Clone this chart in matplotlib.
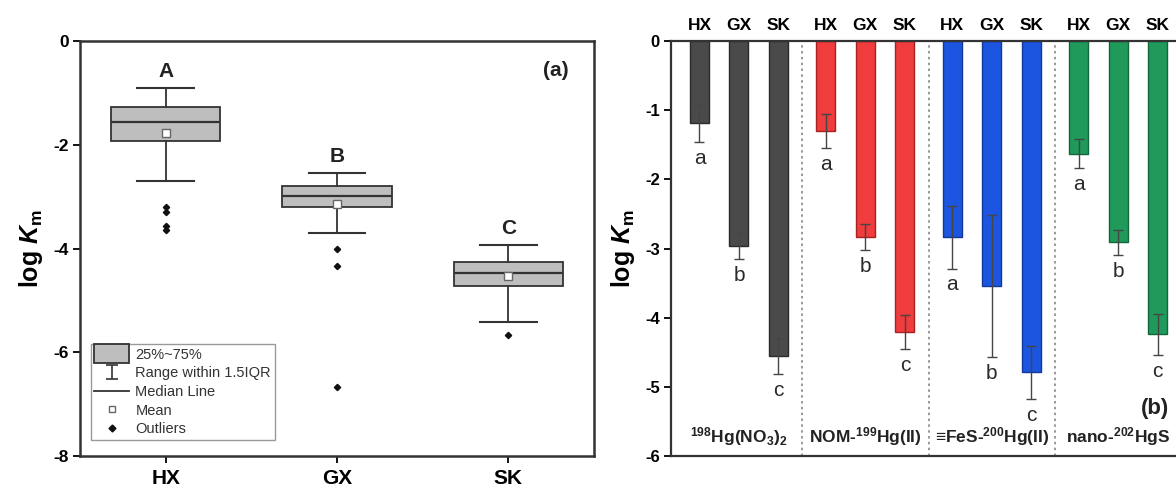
import numpy as np
import matplotlib
matplotlib.use('Agg')
import matplotlib.pyplot as plt
from matplotlib.patches import Patch, Rectangle
from matplotlib.lines import Line2D
from matplotlib.legend_handler import HandlerPatch

plt.rcParams['font.family'] = ['Liberation Sans', 'DejaVu Sans']
plt.rcParams['axes.unicode_minus'] = False
plt.rcParams['mathtext.fontset'] = 'custom'
plt.rcParams['mathtext.rm'] = 'Liberation Sans'
plt.rcParams['mathtext.bf'] = 'Liberation Sans:bold'
plt.rcParams['mathtext.it'] = 'Liberation Sans:italic'
plt.rcParams['mathtext.bfit'] = 'Liberation Sans:italic:bold'

# (a) log Km box statistics for each site
sites = ['HX', 'GX', 'SK']
q1 = [-1.93, -3.20, -4.72]
med = [-1.57, -2.99, -4.47]
q3 = [-1.28, -2.79, -4.26]
whis_lo = [-2.70, -3.70, -5.41]
whis_hi = [-0.90, -2.54, -3.93]
means = [-1.78, -3.14, -4.53]
outliers = [[-3.20, -3.30, -3.56, -3.65], [-4.01, -4.34, -6.67], [-5.66]]
site_letters = ['A', 'B', 'C']

# (b) mean log Km and SD for each Hg species (HX, GX, SK)
species = [r'$^{\mathbf{198}}$Hg(NO$_{\mathbf{3}}$)$_{\mathbf{2}}$',
           r'NOM-$^{\mathbf{199}}$Hg(II)',
           r'≡FeS-$^{\mathbf{200}}$Hg(II)',
           r'nano-$^{\mathbf{202}}$HgS']
km_mean = [[-1.19, -2.96, -4.56],
           [-1.30, -2.83, -4.21],
           [-2.84, -3.54, -4.79],
           [-1.63, -2.91, -4.24]]
km_sd = [[0.27, 0.19, 0.26],
         [0.25, 0.19, 0.25],
         [0.45, 1.03, 0.38],
         [0.21, 0.18, 0.30]]
bar_letters = ['a', 'b', 'c']
face_colors = ['#4a4a4a', '#f03c3c', '#1c55df', '#1f9a5a']
edge_colors = ['#2a2a2a', '#a82222', '#12389a', '#11663a']

fig = plt.figure(figsize=(11.76, 4.88), dpi=100)

# ---------------- panel (a) ----------------
ax1 = fig.add_axes([80 / 1176, 32 / 488, 514 / 1176, 415 / 488])
stats = []
for i in range(len(sites)):
    stats.append(dict(med=med[i], q1=q1[i], q3=q3[i], whislo=whis_lo[i],
                      whishi=whis_hi[i], mean=means[i], fliers=outliers[i]))
pos = [1, 2, 3]
ax1.bxp(stats, positions=pos, widths=0.64, capwidths=0.33, showmeans=True,
        patch_artist=True,
        boxprops=dict(facecolor='#bebebe', edgecolor='#333333', linewidth=1.3),
        medianprops=dict(color='#333333', linewidth=1.6),
        whiskerprops=dict(color='#333333', linewidth=1.3),
        capprops=dict(color='#333333', linewidth=1.5),
        meanprops=dict(marker='s', markerfacecolor='white',
                       markeredgecolor='#666666', markersize=6),
        flierprops=dict(marker='D', markerfacecolor='#111111',
                        markeredgecolor='#111111', markersize=3.2))
for p, hi, lab in zip(pos, whis_hi, site_letters):
    ax1.text(p, hi + 0.13, lab, ha='center', va='bottom', fontsize=15,
             fontweight='bold', color='#222222')
ax1.text(0.95, 0.93, '(a)', transform=ax1.transAxes, ha='right', va='center',
         fontsize=15, fontweight='bold', color='#222222')

ax1.set_xlim(0.5, 3.5)
ax1.set_ylim(-8, 0)
ax1.set_yticks([0, -2, -4, -6, -8])
ax1.set_xticks(pos)
ax1.set_xticklabels(sites)
ax1.tick_params(axis='x', direction='out', length=5, width=1.3, labelsize=15, pad=4)
ax1.tick_params(axis='y', direction='out', length=5, width=1.3, labelsize=12.5, pad=3)
for t in ax1.get_xticklabels() + ax1.get_yticklabels():
    t.set_fontweight('bold')
for s in ax1.spines.values():
    s.set_linewidth(1.8)
    s.set_color('#333333')
ax1.set_ylabel(r'log $\mathbfit{K}_{\mathbf{m}}$', fontsize=18, fontweight='bold',
               labelpad=6)


def tall_box(legend, orig_handle, xdescent, ydescent, width, height, fontsize):
    return Rectangle((-xdescent, -ydescent - 3), width, height + 6)


eb = ax1.errorbar([np.nan], [np.nan], yerr=[1], fmt='none', ecolor='#333333',
                  elinewidth=1.2, capsize=4, capthick=1.2)
handles = [Patch(facecolor='#bebebe', edgecolor='#333333', linewidth=1.3),
           eb,
           Line2D([], [], color='#333333', linewidth=1.3),
           Line2D([], [], ls='none', marker='s', markerfacecolor='white',
                  markeredgecolor='#666666', markersize=5),
           Line2D([], [], ls='none', marker='D', markerfacecolor='#111111',
                  markeredgecolor='#111111', markersize=3.5)]
labels = ['25%~75%', 'Range within 1.5IQR', 'Median Line', 'Mean', 'Outliers']
leg = ax1.legend(handles, labels, loc='lower left', bbox_to_anchor=(0.021, 0.039),
                 borderaxespad=0, fancybox=False, framealpha=1, edgecolor='#999999',
                 fontsize=10.5, handlelength=2.4, handletextpad=0.4,
                 labelspacing=0.32, borderpad=0.25,
                 handler_map={Patch: HandlerPatch(patch_func=tall_box)})
leg.get_frame().set_linewidth(1.0)
for t in leg.get_texts():
    t.set_color('#333333')

# ---------------- panel (b) ----------------
group_step = 3.2
bar_w = 0.48
x_left = -0.72
x_right = (len(species) - 1) * group_step + 2 + 0.72
px_per_unit = 39.5
ax2 = fig.add_axes([671 / 1176, 32 / 488, (x_right - x_left) * px_per_unit / 1176, 415 / 488])

tick_x = []
for g in range(len(species)):
    x = g * group_step + np.arange(3)
    tick_x.extend(x)
    ax2.bar(x, km_mean[g], width=bar_w, color=face_colors[g],
            edgecolor=edge_colors[g], linewidth=1.0,
            yerr=km_sd[g], error_kw=dict(ecolor='#454545', elinewidth=1.0,
                                         capsize=3.5, capthick=1.0))
    for xi, m, e, lab in zip(x, km_mean[g], km_sd[g], bar_letters):
        ax2.text(xi, m - e - 0.1, lab, ha='center', va='top', fontsize=15,
                 color='#2a2a2a')
    ax2.text(g * group_step + 1, -5.72, species[g], ha='center', va='center',
             fontsize=12.5, fontweight='bold', color='#222222')
    if g > 0:
        ax2.axvline(g * group_step - (group_step - 2) / 2, color='#888888',
                    linestyle=(0, (1.5, 2)), linewidth=1.2)

ax2.text(11.53, -5.31, '(b)', ha='center', va='center', fontsize=16,
         fontweight='bold', color='#222222')

ax2.set_xlim(x_left, x_right)
ax2.set_ylim(-6, 0)
ax2.set_yticks(np.arange(0, -7, -1))
ax2.set_xticks(tick_x)
ax2.set_xticklabels(sites * len(species))
ax2.xaxis.tick_top()
ax2.tick_params(axis='x', length=0, labelsize=12.5, pad=6)
ax2.tick_params(axis='y', direction='out', length=5, width=1.3, labelsize=12, pad=3)
for t in ax2.get_xticklabels() + ax2.get_yticklabels():
    t.set_fontweight('bold')
for s in ax2.spines.values():
    s.set_linewidth(1.6)
    s.set_color('#333333')
ax2.set_ylabel(r'log $\mathbfit{K}_{\mathbf{m}}$', fontsize=18, fontweight='bold',
               labelpad=6)

fig.savefig('out.png', dpi=100)
